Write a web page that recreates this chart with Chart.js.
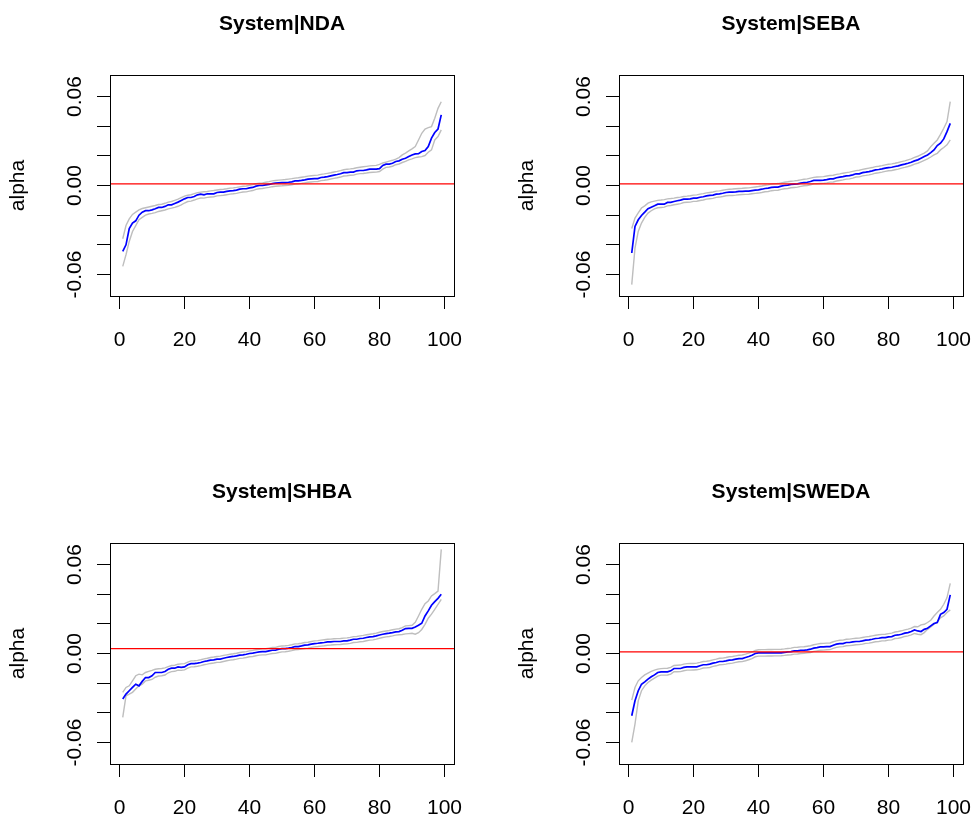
<!DOCTYPE html>
<html>
<head>
<meta charset="utf-8">
<script src="https://cdn.jsdelivr.net/npm/chart.js@4.4.1/dist/chart.umd.min.js"></script>
<style>
  html, body { margin: 0; padding: 0; background: #fff; overflow: hidden; }
  body { width: 976px; height: 821px; position: relative; }
  canvas { position: absolute; }
</style>
</head>
<body>
<canvas id="p1" width="467" height="353" style="left:0;top:0"></canvas>
<canvas id="p2" width="467" height="353" style="left:509px;top:0"></canvas>
<canvas id="p3" width="467" height="353" style="left:0;top:468px"></canvas>
<canvas id="p4" width="467" height="353" style="left:509px;top:468px"></canvas>
<script>
// axis limits as R would pad them (4% each side)
const X_MIN = -2.92, X_MAX = 102.92;
const Y_MIN = -0.0745, Y_MAX = 0.0745;
const xTicks = [0, 20, 40, 60, 80, 100];
const yTicks = [-0.06, -0.04, -0.02, 0, 0.02, 0.04, 0.06];
const yLabelTicks = [-0.06, 0, 0.06];
const yLabels = ['-0.06', '0.00', '0.06'];

const idx = Array.from({ length: 99 }, (_, i) => i + 1);

// System|NDA
const ndaFit = [
  -0.0444, -0.0400, -0.0290, -0.0253, -0.0238, -0.0200, -0.0180, -0.0170, -0.0170, -0.0164,
  -0.0157, -0.0148, -0.0148, -0.0141, -0.0130, -0.0130, -0.0121, -0.0112, -0.0101, -0.0090,
  -0.0081, -0.0081, -0.0074, -0.0063, -0.0058, -0.0063, -0.0056, -0.0056, -0.0056, -0.0047,
  -0.0045, -0.0045, -0.0040, -0.0036, -0.0034, -0.0031, -0.0025, -0.0022, -0.0022, -0.0016,
  -0.0013, -0.0004, 0.0000, 0.0000, 0.0004, 0.0007, 0.0013, 0.0016, 0.0018, 0.0020,
  0.0020, 0.0022, 0.0025, 0.0031, 0.0031, 0.0034, 0.0038, 0.0043, 0.0045, 0.0047,
  0.0047, 0.0054, 0.0056, 0.0060, 0.0065, 0.0070, 0.0074, 0.0079, 0.0087, 0.0087,
  0.0090, 0.0090, 0.0099, 0.0101, 0.0101, 0.0105, 0.0110, 0.0110, 0.0110, 0.0114,
  0.0135, 0.0144, 0.0144, 0.0150, 0.0162, 0.0166, 0.0177, 0.0184, 0.0195, 0.0206,
  0.0213, 0.0215, 0.0229, 0.0236, 0.0262, 0.0319, 0.0357, 0.0381, 0.0476
];
const ndaUpper = [
  -0.0359, -0.0270, -0.0225, -0.0195, -0.0180, -0.0165, -0.0155, -0.0150, -0.0145, -0.0140,
  -0.0135, -0.0128, -0.0126, -0.0120, -0.0112, -0.0108, -0.0100, -0.0092, -0.0082, -0.0072,
  -0.0066, -0.0062, -0.0055, -0.0048, -0.0045, -0.0042, -0.0040, -0.0036, -0.0034, -0.0030,
  -0.0027, -0.0025, -0.0022, -0.0018, -0.0016, -0.0013, -0.0009, -0.0005, -0.0003, 0.0002,
  0.0006, 0.0012, 0.0015, 0.0018, 0.0022, 0.0026, 0.0031, 0.0034, 0.0036, 0.0038,
  0.0040, 0.0043, 0.0046, 0.0050, 0.0052, 0.0056, 0.0059, 0.0063, 0.0066, 0.0068,
  0.0070, 0.0075, 0.0078, 0.0082, 0.0086, 0.0091, 0.0095, 0.0100, 0.0106, 0.0110,
  0.0112, 0.0115, 0.0120, 0.0123, 0.0126, 0.0129, 0.0132, 0.0134, 0.0136, 0.0142,
  0.0152, 0.0158, 0.0164, 0.0170, 0.0178, 0.0188, 0.0206, 0.0218, 0.0233, 0.0247,
  0.0262, 0.0307, 0.0352, 0.0381, 0.0390, 0.0397, 0.0453, 0.0520, 0.0565
];
const ndaLower = [
  -0.0545, -0.0467, -0.0377, -0.0310, -0.0270, -0.0230, -0.0215, -0.0200, -0.0192, -0.0188,
  -0.0183, -0.0175, -0.0170, -0.0165, -0.0158, -0.0153, -0.0147, -0.0140, -0.0130, -0.0118,
  -0.0108, -0.0105, -0.0098, -0.0090, -0.0084, -0.0085, -0.0080, -0.0078, -0.0076, -0.0070,
  -0.0068, -0.0066, -0.0062, -0.0058, -0.0056, -0.0053, -0.0048, -0.0044, -0.0043, -0.0038,
  -0.0034, -0.0026, -0.0022, -0.0020, -0.0016, -0.0013, -0.0008, -0.0005, -0.0003, -0.0002,
  0.0000, 0.0002, 0.0005, 0.0010, 0.0011, 0.0014, 0.0018, 0.0022, 0.0024, 0.0026,
  0.0027, 0.0033, 0.0035, 0.0039, 0.0044, 0.0048, 0.0052, 0.0057, 0.0064, 0.0066,
  0.0069, 0.0070, 0.0077, 0.0080, 0.0081, 0.0084, 0.0088, 0.0089, 0.0090, 0.0094,
  0.0110, 0.0122, 0.0125, 0.0130, 0.0140, 0.0145, 0.0155, 0.0162, 0.0173, 0.0180,
  0.0188, 0.0192, 0.0195, 0.0202, 0.0224, 0.0240, 0.0307, 0.0330, 0.0375
];

// System|SEBA
const sebaFit = [
  -0.0455, -0.0276, -0.0231, -0.0202, -0.0180, -0.0157, -0.0146, -0.0137, -0.0126, -0.0126,
  -0.0126, -0.0114, -0.0114, -0.0108, -0.0103, -0.0099, -0.0092, -0.0092, -0.0090, -0.0085,
  -0.0085, -0.0079, -0.0076, -0.0070, -0.0067, -0.0065, -0.0058, -0.0056, -0.0052, -0.0047,
  -0.0045, -0.0045, -0.0043, -0.0040, -0.0040, -0.0038, -0.0038, -0.0034, -0.0031, -0.0029,
  -0.0025, -0.0020, -0.0018, -0.0013, -0.0011, -0.0011, -0.0004, 0.0000, 0.0002, 0.0007,
  0.0009, 0.0011, 0.0016, 0.0020, 0.0022, 0.0027, 0.0034, 0.0034, 0.0034, 0.0036,
  0.0040, 0.0045, 0.0045, 0.0052, 0.0056, 0.0060, 0.0065, 0.0067, 0.0072, 0.0079,
  0.0079, 0.0087, 0.0090, 0.0094, 0.0099, 0.0105, 0.0108, 0.0112, 0.0117, 0.0121,
  0.0123, 0.0128, 0.0132, 0.0139, 0.0144, 0.0150, 0.0157, 0.0166, 0.0173, 0.0184,
  0.0195, 0.0206, 0.0222, 0.0240, 0.0269, 0.0285, 0.0314, 0.0363, 0.0419
];
const sebaUpper = [
  -0.0290, -0.0220, -0.0185, -0.0152, -0.0137, -0.0119, -0.0110, -0.0105, -0.0100, -0.0098,
  -0.0095, -0.0090, -0.0088, -0.0085, -0.0081, -0.0078, -0.0074, -0.0072, -0.0069, -0.0065,
  -0.0063, -0.0058, -0.0055, -0.0050, -0.0047, -0.0044, -0.0038, -0.0036, -0.0032, -0.0028,
  -0.0025, -0.0024, -0.0022, -0.0020, -0.0019, -0.0017, -0.0016, -0.0013, -0.0010, -0.0007,
  -0.0003, 0.0002, 0.0004, 0.0009, 0.0011, 0.0013, 0.0018, 0.0022, 0.0025, 0.0029,
  0.0031, 0.0034, 0.0038, 0.0042, 0.0045, 0.0050, 0.0055, 0.0057, 0.0058, 0.0060,
  0.0064, 0.0067, 0.0069, 0.0075, 0.0078, 0.0083, 0.0087, 0.0090, 0.0095, 0.0100,
  0.0103, 0.0109, 0.0113, 0.0117, 0.0121, 0.0127, 0.0130, 0.0134, 0.0139, 0.0143,
  0.0146, 0.0150, 0.0155, 0.0161, 0.0166, 0.0173, 0.0180, 0.0189, 0.0197, 0.0208,
  0.0218, 0.0233, 0.0262, 0.0285, 0.0307, 0.0345, 0.0386, 0.0431, 0.0565
];
const sebaLower = [
  -0.0668, -0.0422, -0.0310, -0.0253, -0.0215, -0.0186, -0.0170, -0.0157, -0.0150, -0.0148,
  -0.0146, -0.0137, -0.0135, -0.0130, -0.0126, -0.0122, -0.0115, -0.0113, -0.0112, -0.0107,
  -0.0106, -0.0101, -0.0098, -0.0092, -0.0089, -0.0087, -0.0080, -0.0078, -0.0074, -0.0069,
  -0.0067, -0.0067, -0.0065, -0.0062, -0.0061, -0.0060, -0.0059, -0.0056, -0.0053, -0.0051,
  -0.0047, -0.0042, -0.0040, -0.0035, -0.0033, -0.0032, -0.0026, -0.0022, -0.0020, -0.0015,
  -0.0013, -0.0011, -0.0006, -0.0002, 0.0000, 0.0005, 0.0012, 0.0012, 0.0013, 0.0014,
  0.0018, 0.0023, 0.0024, 0.0030, 0.0034, 0.0038, 0.0043, 0.0045, 0.0050, 0.0057,
  0.0058, 0.0065, 0.0068, 0.0072, 0.0077, 0.0083, 0.0086, 0.0090, 0.0095, 0.0099,
  0.0101, 0.0106, 0.0110, 0.0117, 0.0122, 0.0128, 0.0135, 0.0144, 0.0150, 0.0160,
  0.0170, 0.0180, 0.0192, 0.0206, 0.0217, 0.0240, 0.0256, 0.0274, 0.0307
];

// System|SHBA
const shbaFit = [
  -0.0307, -0.0274, -0.0251, -0.0229, -0.0207, -0.0218, -0.0188, -0.0162, -0.0162, -0.0150,
  -0.0128, -0.0128, -0.0128, -0.0121, -0.0106, -0.0099, -0.0099, -0.0090, -0.0094, -0.0090,
  -0.0076, -0.0068, -0.0068, -0.0065, -0.0061, -0.0054, -0.0050, -0.0045, -0.0043, -0.0038,
  -0.0038, -0.0032, -0.0027, -0.0023, -0.0020, -0.0016, -0.0011, -0.0009, -0.0005, 0.0000,
  0.0002, 0.0007, 0.0011, 0.0013, 0.0013, 0.0018, 0.0022, 0.0022, 0.0029, 0.0033,
  0.0033, 0.0036, 0.0040, 0.0047, 0.0047, 0.0051, 0.0056, 0.0058, 0.0063, 0.0067,
  0.0069, 0.0072, 0.0074, 0.0078, 0.0078, 0.0081, 0.0081, 0.0081, 0.0085, 0.0085,
  0.0090, 0.0096, 0.0096, 0.0101, 0.0103, 0.0108, 0.0112, 0.0114, 0.0119, 0.0125,
  0.0130, 0.0134, 0.0137, 0.0141, 0.0146, 0.0148, 0.0157, 0.0168, 0.0170, 0.0170,
  0.0179, 0.0190, 0.0204, 0.0253, 0.0287, 0.0325, 0.0350, 0.0372, 0.0399
];
const shbaUpper = [
  -0.0262, -0.0229, -0.0218, -0.0184, -0.0150, -0.0139, -0.0144, -0.0128, -0.0120, -0.0114,
  -0.0106, -0.0103, -0.0101, -0.0097, -0.0088, -0.0081, -0.0079, -0.0072, -0.0070, -0.0068,
  -0.0058, -0.0050, -0.0049, -0.0046, -0.0042, -0.0036, -0.0032, -0.0027, -0.0024, -0.0020,
  -0.0018, -0.0013, -0.0009, -0.0005, -0.0002, 0.0002, 0.0007, 0.0010, 0.0013, 0.0018,
  0.0021, 0.0025, 0.0029, 0.0031, 0.0032, 0.0036, 0.0040, 0.0041, 0.0047, 0.0051,
  0.0052, 0.0055, 0.0059, 0.0065, 0.0066, 0.0069, 0.0074, 0.0076, 0.0081, 0.0085,
  0.0087, 0.0090, 0.0093, 0.0096, 0.0097, 0.0099, 0.0100, 0.0101, 0.0104, 0.0105,
  0.0109, 0.0114, 0.0115, 0.0119, 0.0122, 0.0126, 0.0130, 0.0133, 0.0137, 0.0143,
  0.0148, 0.0152, 0.0155, 0.0160, 0.0164, 0.0167, 0.0175, 0.0186, 0.0188, 0.0190,
  0.0210, 0.0253, 0.0298, 0.0336, 0.0354, 0.0388, 0.0404, 0.0421, 0.0702
];
const shbaLower = [
  -0.0431, -0.0285, -0.0274, -0.0262, -0.0240, -0.0218, -0.0207, -0.0185, -0.0180, -0.0175,
  -0.0160, -0.0152, -0.0150, -0.0145, -0.0130, -0.0122, -0.0120, -0.0112, -0.0114, -0.0110,
  -0.0098, -0.0090, -0.0089, -0.0086, -0.0082, -0.0076, -0.0072, -0.0067, -0.0064, -0.0060,
  -0.0059, -0.0054, -0.0049, -0.0045, -0.0042, -0.0038, -0.0033, -0.0031, -0.0027, -0.0022,
  -0.0020, -0.0015, -0.0011, -0.0009, -0.0009, -0.0004, 0.0000, 0.0001, 0.0007, 0.0011,
  0.0012, 0.0015, 0.0019, 0.0025, 0.0026, 0.0030, 0.0034, 0.0036, 0.0041, 0.0045,
  0.0047, 0.0050, 0.0052, 0.0056, 0.0057, 0.0059, 0.0060, 0.0061, 0.0064, 0.0065,
  0.0068, 0.0074, 0.0075, 0.0079, 0.0081, 0.0086, 0.0090, 0.0092, 0.0097, 0.0103,
  0.0108, 0.0112, 0.0115, 0.0119, 0.0124, 0.0126, 0.0128, 0.0132, 0.0134, 0.0136,
  0.0130, 0.0140, 0.0162, 0.0197, 0.0238, 0.0265, 0.0298, 0.0332, 0.0365
];

// System|SWEDA
const swedaFit = [
  -0.0420, -0.0319, -0.0251, -0.0207, -0.0191, -0.0173, -0.0157, -0.0144, -0.0128, -0.0124,
  -0.0124, -0.0124, -0.0117, -0.0101, -0.0101, -0.0101, -0.0094, -0.0090, -0.0090, -0.0090,
  -0.0090, -0.0083, -0.0076, -0.0076, -0.0072, -0.0065, -0.0061, -0.0054, -0.0054, -0.0050,
  -0.0045, -0.0043, -0.0038, -0.0034, -0.0034, -0.0027, -0.0020, -0.0012, 0.0000, 0.0004,
  0.0004, 0.0004, 0.0004, 0.0004, 0.0004, 0.0004, 0.0004, 0.0007, 0.0011, 0.0013,
  0.0018, 0.0018, 0.0022, 0.0022, 0.0025, 0.0029, 0.0036, 0.0040, 0.0045, 0.0045,
  0.0047, 0.0047, 0.0056, 0.0063, 0.0067, 0.0067, 0.0074, 0.0074, 0.0078, 0.0081,
  0.0081, 0.0085, 0.0090, 0.0092, 0.0096, 0.0101, 0.0103, 0.0107, 0.0107, 0.0112,
  0.0114, 0.0123, 0.0125, 0.0130, 0.0137, 0.0141, 0.0148, 0.0159, 0.0152, 0.0148,
  0.0163, 0.0170, 0.0186, 0.0202, 0.0209, 0.0264, 0.0276, 0.0298, 0.0395
];
const swedaUpper = [
  -0.0314, -0.0229, -0.0184, -0.0162, -0.0144, -0.0132, -0.0121, -0.0112, -0.0105, -0.0102,
  -0.0100, -0.0099, -0.0094, -0.0081, -0.0079, -0.0078, -0.0072, -0.0068, -0.0067, -0.0067,
  -0.0065, -0.0060, -0.0054, -0.0052, -0.0049, -0.0043, -0.0038, -0.0032, -0.0031, -0.0027,
  -0.0022, -0.0020, -0.0016, -0.0012, -0.0010, -0.0004, 0.0003, 0.0010, 0.0020, 0.0025,
  0.0026, 0.0026, 0.0027, 0.0027, 0.0028, 0.0028, 0.0029, 0.0031, 0.0034, 0.0036,
  0.0041, 0.0042, 0.0045, 0.0046, 0.0049, 0.0052, 0.0059, 0.0063, 0.0067, 0.0068,
  0.0070, 0.0071, 0.0079, 0.0085, 0.0089, 0.0090, 0.0096, 0.0097, 0.0100, 0.0103,
  0.0104, 0.0108, 0.0112, 0.0115, 0.0119, 0.0123, 0.0126, 0.0129, 0.0130, 0.0134,
  0.0137, 0.0145, 0.0148, 0.0153, 0.0159, 0.0164, 0.0171, 0.0182, 0.0180, 0.0193,
  0.0197, 0.0209, 0.0224, 0.0253, 0.0276, 0.0298, 0.0332, 0.0377, 0.0473
];
const swedaLower = [
  -0.0600, -0.0476, -0.0319, -0.0251, -0.0218, -0.0195, -0.0180, -0.0166, -0.0152, -0.0146,
  -0.0146, -0.0145, -0.0139, -0.0123, -0.0123, -0.0122, -0.0116, -0.0112, -0.0112, -0.0111,
  -0.0110, -0.0105, -0.0098, -0.0097, -0.0094, -0.0087, -0.0083, -0.0076, -0.0075, -0.0072,
  -0.0067, -0.0065, -0.0060, -0.0056, -0.0055, -0.0049, -0.0042, -0.0034, -0.0022, -0.0018,
  -0.0018, -0.0018, -0.0017, -0.0017, -0.0016, -0.0016, -0.0015, -0.0013, -0.0010, -0.0008,
  -0.0004, -0.0003, 0.0000, 0.0001, 0.0004, 0.0007, 0.0014, 0.0018, 0.0022, 0.0023,
  0.0025, 0.0026, 0.0034, 0.0041, 0.0045, 0.0046, 0.0052, 0.0053, 0.0056, 0.0059,
  0.0060, 0.0063, 0.0068, 0.0070, 0.0074, 0.0079, 0.0081, 0.0085, 0.0086, 0.0090,
  0.0092, 0.0101, 0.0103, 0.0108, 0.0115, 0.0119, 0.0125, 0.0135, 0.0130, 0.0127,
  0.0141, 0.0163, 0.0179, 0.0197, 0.0213, 0.0240, 0.0253, 0.0276, 0.0294
];

const refLines = [0.0011, 0.0011, 0.0033, 0.0011];

const FONT = '"Liberation Sans", Arial, sans-serif';
Chart.defaults.font.family = FONT;
Chart.defaults.color = '#000';

// box round the plot + vertical y tick labels like R's las=0
const rFrame = {
  id: 'rFrame',
  afterDraw(chart) {
    const { ctx, chartArea: a, scales: { y } } = chart;
    ctx.save();
    ctx.strokeStyle = '#000';
    ctx.lineWidth = 1;
    ctx.strokeRect(Math.round(a.left) + 0.5, Math.round(a.top) + 0.5,
      Math.round(a.right - a.left), Math.round(a.bottom - a.top));
    ctx.font = '21px ' + FONT;
    ctx.fillStyle = '#000';
    ctx.textAlign = 'center';
    ctx.textBaseline = 'alphabetic';
    yLabelTicks.forEach((v, k) => {
      ctx.save();
      ctx.translate(a.left - 29, y.getPixelForValue(v));
      ctx.rotate(-Math.PI / 2);
      ctx.fillText(yLabels[k], 0, 0);
      ctx.restore();
    });
    ctx.restore();
  }
};

function series(vals) {
  return idx.map((x, i) => ({ x: x, y: vals[i] }));
}

function makePanel(canvasId, title, fit, upper, lower, ref) {
  const tickGrid = { drawOnChartArea: false, drawTicks: true, tickLength: 13, color: '#000', lineWidth: 1 };
  new Chart(document.getElementById(canvasId), {
    type: 'line',
    data: {
      datasets: [
        { data: [{ x: X_MIN, y: ref }, { x: X_MAX, y: ref }], borderColor: '#FF0000', borderWidth: 1.4 },
        { data: series(fit), borderColor: '#0000FF', borderWidth: 1.7 },
        { data: series(upper), borderColor: '#BEBEBE', borderWidth: 1.4 },
        { data: series(lower), borderColor: '#BEBEBE', borderWidth: 1.4 }
      ]
    },
    options: {
      responsive: false,
      animation: false,
      elements: { point: { radius: 0 }, line: { tension: 0 } },
      layout: { padding: { left: 0, right: 13, top: 0, bottom: 0 } },
      plugins: {
        legend: { display: false },
        tooltip: { enabled: false },
        title: {
          display: true, text: title, color: '#000', fullSize: false,
          font: { size: 21, weight: 'bold' },
          padding: { top: 12, bottom: 37.8 }
        }
      },
      scales: {
        x: {
          type: 'linear', min: X_MIN, max: X_MAX,
          afterBuildTicks: s => { s.ticks = xTicks.map(v => ({ value: v })); },
          afterFit: s => { s.height = 57; s.paddingLeft = 0; s.paddingRight = 0; },
          grid: tickGrid,
          border: { display: false },
          ticks: { padding: 19, font: { size: 21 }, color: '#000', maxRotation: 0, autoSkip: false }
        },
        y: {
          type: 'linear', min: Y_MIN, max: Y_MAX,
          afterBuildTicks: s => { s.ticks = yTicks.map(v => ({ value: v })); },
          afterFit: s => { s.width = 110; s.paddingTop = 0; s.paddingBottom = 0; },
          grid: tickGrid,
          border: { display: false },
          ticks: { display: false },
          title: { display: true, text: 'alpha', color: '#000', font: { size: 21 }, padding: { top: 6, bottom: 0 } }
        }
      }
    },
    plugins: [rFrame]
  });
}

makePanel('p1', 'System|NDA', ndaFit, ndaUpper, ndaLower, refLines[0]);
makePanel('p2', 'System|SEBA', sebaFit, sebaUpper, sebaLower, refLines[1]);
makePanel('p3', 'System|SHBA', shbaFit, shbaUpper, shbaLower, refLines[2]);
makePanel('p4', 'System|SWEDA', swedaFit, swedaUpper, swedaLower, refLines[3]);
</script>
</body>
</html>
